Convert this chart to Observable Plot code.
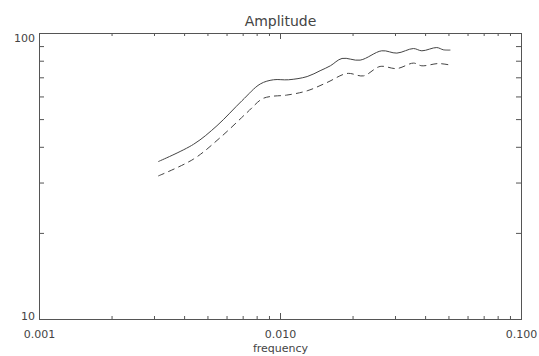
<!DOCTYPE html>
<html>
<head>
<meta charset="utf-8">
<script src="https://cdn.jsdelivr.net/npm/d3@7"></script>
<script src="https://cdn.jsdelivr.net/npm/@observablehq/plot@0.6"></script>
<style>
  html, body { margin: 0; padding: 0; background: #fff; }
  svg { display: block; }
</style>
</head>
<body>
<div id="chart"></div>
<script>
// Solid curve
const freqSolid = [0.00312, 0.00436, 0.00545, 0.00692, 0.00824, 0.00935, 0.0108, 0.0129, 0.0146, 0.0161, 0.0180, 0.0214, 0.0263, 0.0304, 0.0356, 0.0386, 0.0445, 0.0474, 0.0505];
const ampSolid  = [35.7, 41.0, 47.6, 58.2, 66.6, 68.9, 68.9, 70.7, 74.1, 77.1, 81.8, 80.7, 87.0, 85.4, 88.6, 87.0, 89.3, 87.7, 87.5];
// Dashed curve
const freqDashed = [0.00312, 0.00436, 0.00563, 0.00726, 0.00837, 0.00906, 0.0106, 0.0129, 0.0156, 0.0189, 0.0221, 0.0259, 0.0304, 0.0356, 0.0386, 0.0452, 0.0505];
const ampDashed  = [31.8, 36.4, 43.3, 52.9, 59.0, 60.2, 60.9, 63.05, 67.4, 72.5, 71.1, 76.7, 75.4, 78.8, 77.1, 78.5, 77.6];

// Ticks
const xMajorTicks = [0.001, 0.01, 0.1];
const xTickLabels = ["0.001", "0.010", "0.100"];
const xMinorTicks = [0.002, 0.003, 0.004, 0.005, 0.006, 0.007, 0.008, 0.009,
                     0.02, 0.03, 0.04, 0.05, 0.06, 0.07, 0.08, 0.09];
const yMajorTicks = [10, 100];
const yTickLabels = ["10", "100"];
const yMinorTicks = [20, 30, 40, 50, 60, 70, 80, 90];

const title = "Amplitude";
const xLabel = "frequency";

const solidData = freqSolid.map((f, i) => ({f, a: ampSolid[i]}));
const dashedData = freqDashed.map((f, i) => ({f, a: ampDashed[i]}));

const W = 539, H = 356;
const mL = 39, mR = 18, mT = 33, mB = 37;
const fw = W - mL - mR, fh = H - mT - mB;
const ink = "#444";
const frameInk = "#555";

const chart = Plot.plot({
  width: W,
  height: H,
  marginLeft: mL,
  marginRight: mR,
  marginTop: mT,
  marginBottom: mB,
  style: {background: "#fff", fontFamily: "DejaVu Sans", fontSize: "11px", color: ink},
  x: {type: "log", domain: [0.001, 0.1], axis: null},
  y: {type: "log", domain: [10, 100], axis: null},
  marks: [
    // minor x ticks bottom & top
    Plot.tickX(xMinorTicks, {x: d => d, stroke: frameInk, insetTop: fh - 3}),
    Plot.tickX(xMinorTicks, {x: d => d, stroke: frameInk, insetBottom: fh - 3}),
    // major x ticks (interior)
    Plot.tickX(xMajorTicks.slice(1, -1), {x: d => d, stroke: frameInk, insetTop: fh - 6}),
    Plot.tickX(xMajorTicks.slice(1, -1), {x: d => d, stroke: frameInk, insetBottom: fh - 6}),
    // minor y ticks left & right
    Plot.tickY(yMinorTicks, {y: d => d, stroke: frameInk, insetRight: fw - 5}),
    Plot.tickY(yMinorTicks, {y: d => d, stroke: frameInk, insetLeft: fw - 5}),
    Plot.frame({stroke: frameInk, strokeWidth: 1}),
    // curves
    Plot.line(solidData, {x: "f", y: "a", stroke: ink, strokeWidth: 1, curve: "catmull-rom"}),
    Plot.line(dashedData, {x: "f", y: "a", stroke: ink, strokeWidth: 1, strokeDasharray: "6,5", curve: "catmull-rom"}),
    // x tick labels
    Plot.text(xMajorTicks, {x: d => d, y: 10, text: (d, i) => xTickLabels[i], lineAnchor: "bottom", dy: 18.5, fill: ink, fontSize: 11}),
    // y tick labels
    Plot.text([yMajorTicks[1]], {x: 0.001, y: d => d, text: () => yTickLabels[1], textAnchor: "end", lineAnchor: "bottom", dx: -4.5, dy: 8, fill: ink, fontSize: 11}),
    Plot.text([yMajorTicks[0]], {x: 0.001, y: d => d, text: () => yTickLabels[0], textAnchor: "end", lineAnchor: "bottom", dx: -4.5, dy: 0.5, fill: ink, fontSize: 11}),
    // axis label & title
    Plot.text([xLabel], {frameAnchor: "bottom", text: d => d, lineAnchor: "bottom", dy: 32, fill: ink, fontSize: 11}),
    Plot.text([title], {frameAnchor: "top", text: d => d, lineAnchor: "bottom", dy: -8, fill: ink, fontSize: 14})
  ]
});

document.getElementById("chart").appendChild(chart);
</script>
</body>
</html>
